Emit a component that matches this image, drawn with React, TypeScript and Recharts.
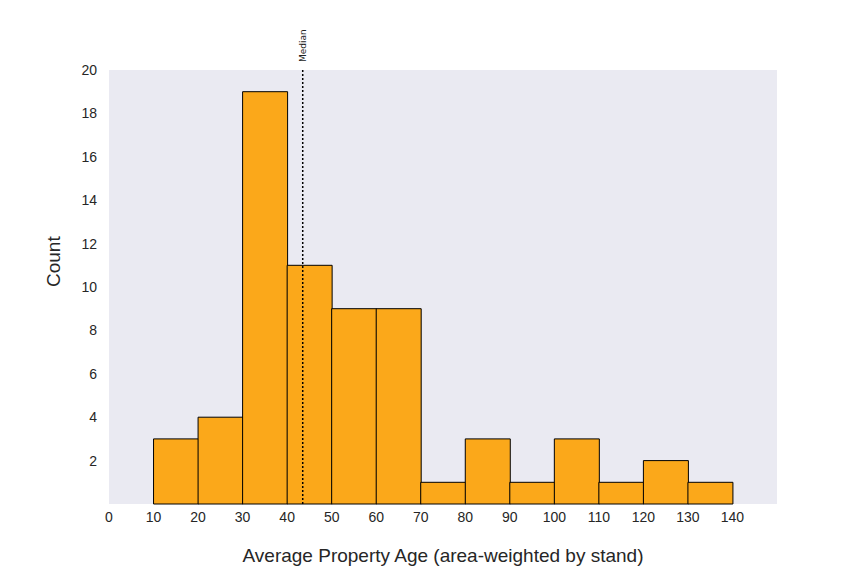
import React from "react";
import { ComposedChart, Bar, XAxis, YAxis, CartesianGrid, ReferenceLine } from "recharts";

const binCenters = [15, 25, 35, 45, 55, 65, 75, 85, 95, 105, 115, 125, 135];
const counts = [3, 4, 19, 11, 9, 9, 1, 3, 1, 3, 1, 2, 1];
const xTicks = [0, 10, 20, 30, 40, 50, 60, 70, 80, 90, 100, 110, 120, 130, 140];
const yTicks = [2, 4, 6, 8, 10, 12, 14, 16, 18, 20];
const median = 43.5;

const data = binCenters.map((x, i) => ({ x, count: counts[i] }));

const MedianLabel = (props: any) => {
  const vb = props.viewBox || {};
  const x = vb.x;
  const y = vb.y - 8;
  return (
    <text x={x + 3} y={y} transform={`rotate(-90 ${x + 3} ${y})`} fontSize={9} fill="#222" fontFamily="DejaVu Sans">
      Median
    </text>
  );
};

export default function App() {
  return (
    <div style={{ position: "absolute", left: 0, top: 0, background: "#fff" }}>
      <ComposedChart width={864} height={576} data={data} margin={{ top: 70, right: 87, bottom: 0, left: 49 }} barCategoryGap={0} barGap={0}>
        <rect x={109} y={70} width={668} height={434} fill="#EAEAF2" />
        <CartesianGrid stroke="#ffffff" strokeWidth={1} fill="#EAEAF2" verticalValues={xTicks} horizontalValues={yTicks} />
        <XAxis
          dataKey="x"
          type="number"
          domain={[0, 150]}
          ticks={xTicks}
          tickLine={false}
          axisLine={false}
          height={72}
          tick={{ fontSize: 14, fill: "#262626", fontFamily: "Liberation Sans" }}
          tickMargin={2}
          label={{ value: "Average Property Age (area-weighted by stand)", position: "insideBottom", offset: 14, fontSize: 19, fill: "#262626", fontFamily: "Liberation Sans" }}
        />
        <YAxis
          type="number"
          domain={[0, 20]}
          ticks={yTicks}
          tickLine={false}
          axisLine={false}
          width={60}
          tick={{ fontSize: 14, fill: "#262626", fontFamily: "Liberation Sans" }}
          tickMargin={6}
          label={{ value: "Count", angle: -90, position: "insideLeft", offset: 4, dy: 0, fontSize: 19, fill: "#262626", fontFamily: "Liberation Sans" }}
        />
        <Bar dataKey="count" fill="#FBA81A" fillOpacity={1} stroke="#000" strokeWidth={1} isAnimationActive={false} />
        <ReferenceLine x={median} stroke="#000" strokeWidth={1.5} strokeDasharray="2 2" label={<MedianLabel />} />
      </ComposedChart>
    </div>
  );
}
